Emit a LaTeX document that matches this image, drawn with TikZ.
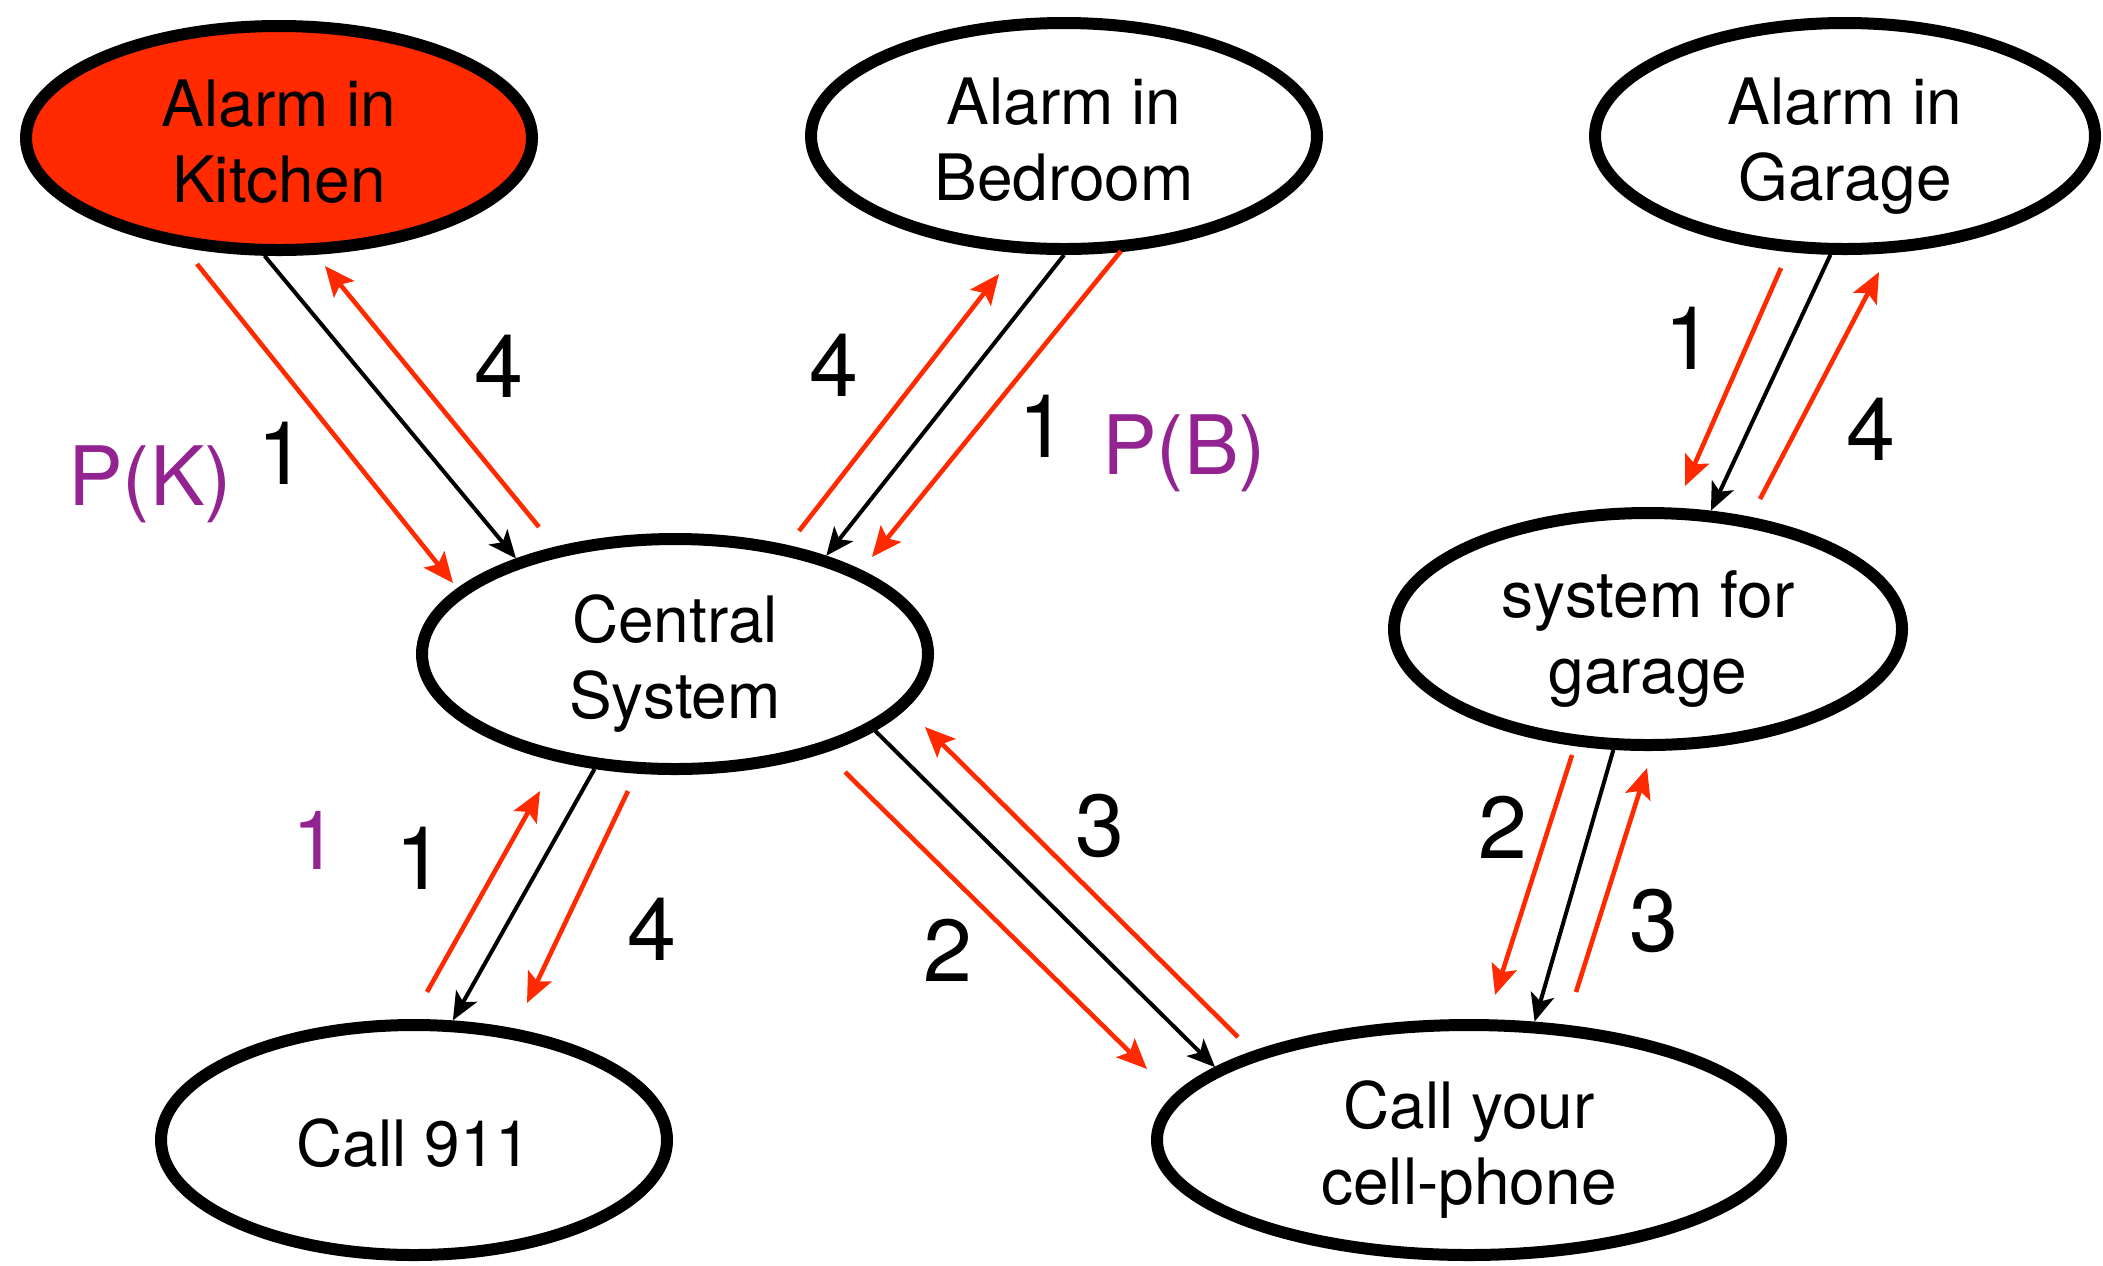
\documentclass[tikz,border=0pt]{standalone}
\usepackage{fontspec}
\setmainfont{TeX Gyre Heros}
\usetikzlibrary{arrows.meta,shapes.geometric}
\definecolor{alarmred}{RGB}{255,42,0}
\definecolor{lblpurple}{RGB}{148,35,146}
\newcommand{\ellipsetext}[1]{\raisebox{-5.5pt}[\height][\depth]{\begin{tabular}{@{}c@{}}#1\end{tabular}}}
\begin{document}
\begin{tikzpicture}[x=0.5pt,y=-0.5pt,
  state/.style={ellipse, draw=black, line width=6pt, inner sep=0pt,
    font=\fontsize{32}{38}\selectfont},
  blk/.style={draw=black, line width=2pt, -{Stealth[length=14pt,width=12pt,inset=3.5pt]}},
  redarr/.style={draw=alarmred, line width=2.3pt, -{Stealth[length=15pt,width=13pt,inset=3pt]}},
  num/.style={font=\fontsize{44}{44}\selectfont, inner sep=0pt},
  pnum/.style={font=\fontsize{41}{41}\selectfont, text=lblpurple, inner sep=0pt},
]
\useasboundingbox (0,0) rectangle (2103,1265);

% nodes
\node[state, fill=alarmred, minimum width=253pt, minimum height=112pt] (K) at (279,138) {\ellipsetext{Alarm in\\Kitchen}};
\node[state, minimum width=253pt, minimum height=113pt] (B) at (1064,136) {\ellipsetext{Alarm in\\Bedroom}};
\node[state, minimum width=250pt, minimum height=113pt] (G) at (1845,136) {\ellipsetext{Alarm in\\Garage}};
\node[state, minimum width=253pt, minimum height=115pt] (C) at (675,654) {\ellipsetext{Central\\System}};
\node[state, minimum width=254pt, minimum height=116pt] (S) at (1648,629) {\ellipsetext{system for\\garage}};
\node[state, minimum width=253pt, minimum height=115pt] (N) at (414,1140) {\ellipsetext{Call 911}};
\node[state, minimum width=312pt, minimum height=115pt] (P) at (1469,1140) {\ellipsetext{Call your\\cell-phone}};

% black connectors
\draw[blk] (K.-97) -- (C.149);
\draw[blk] (B.-90) -- (C.33.5);
\draw[blk] (G.-97) -- (S.62);
\draw[blk] (C.-125) -- (N.72);
\draw[blk] (C.-21) -- (P.164);
\draw[blk] (S.-106) -- (P.61);

% red connector end points
\coordinate (k1s) at (197,264); \coordinate (k1e) at (453,583);
\coordinate (k4s) at (539,527); \coordinate (k4e) at (325,266);
\coordinate (b4s) at (799,531); \coordinate (b4e) at (999,274);
\coordinate (b1s) at (1121,251); \coordinate (b1e) at (872,557);
\coordinate (g1s) at (1781,268); \coordinate (g1e) at (1685,486);
\coordinate (g4s) at (1760,499); \coordinate (g4e) at (1879,272);
\coordinate (n1s) at (427,992); \coordinate (n1e) at (540,791);
\coordinate (n4s) at (628,791); \coordinate (n4e) at (527,1003);
\coordinate (p2s) at (845,772); \coordinate (p2e) at (1147,1069);
\coordinate (p3s) at (1238,1037); \coordinate (p3e) at (925,727);
\coordinate (q2s) at (1572,755); \coordinate (q2e) at (1495,995);
\coordinate (q3s) at (1576,992); \coordinate (q3e) at (1647,768);

\draw[redarr] (k1s) -- (k1e);
\draw[redarr] (k4s) -- (k4e);
\draw[redarr] (b4s) -- (b4e);
\draw[redarr] (b1s) -- (b1e);
\draw[redarr] (g1s) -- (g1e);
\draw[redarr] (g4s) -- (g4e);
\draw[redarr] (n1s) -- (n1e);
\draw[redarr] (n4s) -- (n4e);
\draw[redarr] (p2s) -- (p2e);
\draw[redarr] (p3s) -- (p3e);
\draw[redarr] (q2s) -- (q2e);
\draw[redarr] (q3s) -- (q3e);

% labels
\node[num] (l1) at (499,366) {4};
\node[num] (l2) at (282,453) {1};
\node[pnum] (l3) at (150,484) {P(K)};
\node[num] (l4) at (834,365) {4};
\node[num] (l5) at (1043,426) {1};
\node[pnum] (l6) at (1184,453) {P(B)};
\node[num] (l7) at (1689,338) {1};
\node[num] (l8) at (1871,429) {4};
\node[pnum] (l9) at (315,840) {1};
\node[num] (l10) at (420,858) {1};
\node[num] (l11) at (652,929) {4};
\node[num] (l12) at (948,950) {2};
\node[num] (l13) at (1100,826) {3};
\node[num] (l14) at (1503,827) {2};
\node[num] (l15) at (1654,921) {3};
\end{tikzpicture}
\end{document}
